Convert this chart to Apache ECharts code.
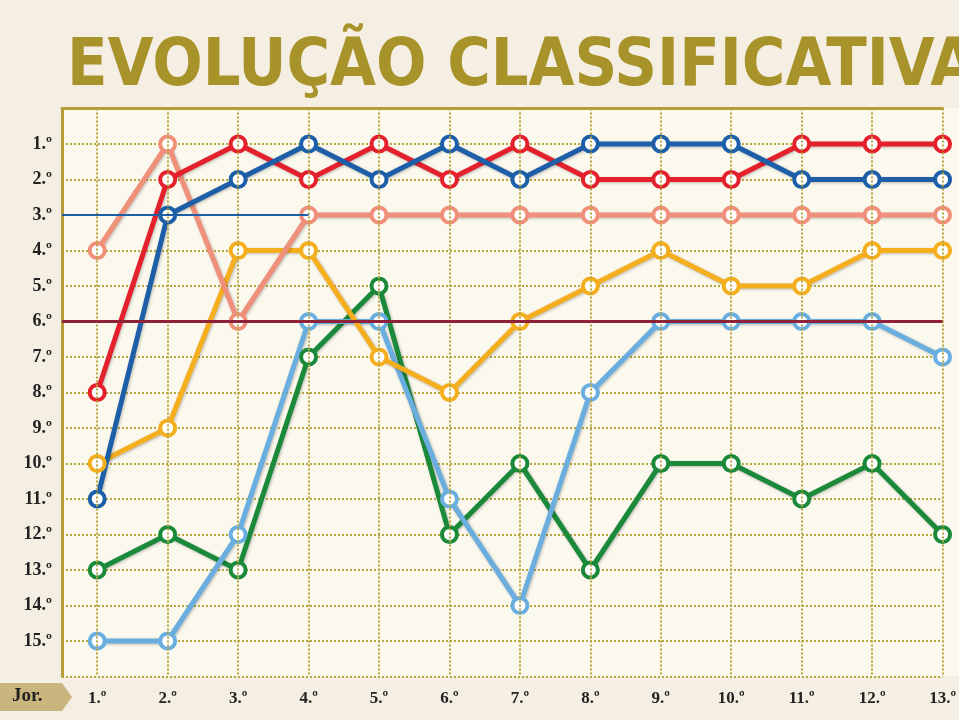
<!DOCTYPE html>
<html><head><meta charset="utf-8">
<script src="https://cdn.jsdelivr.net/npm/echarts@6/dist/echarts.min.js"></script>
<style>html,body{margin:0;padding:0;background:#f4efe2;}#c{width:959px;height:720px;}</style>
</head><body><div id="c"></div>
<script>
const jornadas = ['1.º','2.º','3.º','4.º','5.º','6.º','7.º','8.º','9.º','10.º','11.º','12.º','13.º'];
const vermelho = [8,2,1,2,1,2,1,2,2,2,1,1,1];
const salmao = [4,1,6,3,3,3,3,3,3,3,3,3,3];
const azul = [11,3,2,1,2,1,2,1,1,1,2,2,2];
const laranja = [10,9,4,4,7,8,6,5,4,5,5,4,4];
const verde = [13,12,13,7,5,12,10,13,10,10,11,10,12];
const azulClaro = [15,15,12,6,6,11,14,8,6,6,6,6,7];

const xs = jornadas.map((j, i) => i + 1);
const chart = echarts.init(document.getElementById('c'));
const mk = (data, color) => ({
  type: 'line', data: data.map((v, i) => [i + 1, v]), symbol: 'circle', symbolSize: 15,
  itemStyle: { color: '#fff', borderColor: color, borderWidth: 4 },
  lineStyle: { color, width: 5, shadowColor: 'rgba(0,0,0,0.25)', shadowBlur: 3, shadowOffsetX: 1, shadowOffsetY: 1 },
  z: 3
});
chart.setOption({
  backgroundColor: '#f4efe2',
  title: { text: 'EVOLUÇÃO CLASSIFICATIVA', left: 62, top: 30,
    textStyle: { color: '#a8922a', fontSize: 66, fontWeight: 'bold', fontFamily: 'DejaVu Sans Condensed' } },
  grid: { left: 62, top: 108.5, right: 0, height: 568 },
  xAxis: { type: 'value', min: 0.5, max: 13,
    axisLine: { lineStyle: { color: '#b59e3a', width: 3 } }, axisTick: { show: false },
    splitLine: { show: false },
    axisLabel: { customValues: xs, color: '#222', fontSize: 17, fontWeight: 'bold', margin: 14,
      fontFamily: 'Liberation Sans Narrow', formatter: v => jornadas[v - 1] || '' } },
  yAxis: { type: 'value', inverse: true, min: 0, max: 16, interval: 1,
    axisLine: { show: true, lineStyle: { color: '#b59e3a', width: 3 } }, axisTick: { show: false },
    axisLabel: { color: '#222', fontSize: 18, fontWeight: 'bold', margin: 10, fontFamily: 'Liberation Sans Narrow',
      formatter: v => (v >= 1 && v <= 15) ? v + '.º' : '' },
    splitLine: { lineStyle: { color: '#b8a640', type: 'dotted', width: 2 } } },
  graphic: [
    { type: 'rect', shape: { x: 62, y: 108, width: 897, height: 568 }, style: { fill: '#fbf8ee' }, z: -10 },
    { type: 'polygon', shape: { points: [[0,683],[62,683],[72,697],[62,711],[0,711]] }, style: { fill: '#c9b57d' } },
    { type: 'text', left: 12, top: 687, style: { text: 'Jor.', fontSize: 19, fontWeight: 'bold', fill: '#222', fontFamily: 'Liberation Sans Narrow' } }
  ],
  series: [
    { type: 'line', data: [], silent: true,
      markLine: { symbol: 'none', silent: true, label: { show: false },
        lineStyle: { color: '#b8a640', type: 'dotted', width: 2 },
        data: xs.map(x => ({ xAxis: x })) } },
    { type: 'line', data: [], silent: true,
      markLine: { symbol: 'none', silent: true, label: { show: false },
        data: [
          [{ coord: [0.5, 3], lineStyle: { color: '#1f5fa8', width: 2, type: 'solid' } }, { coord: [4, 3] }],
          [{ coord: [0.5, 6], lineStyle: { color: '#8e2238', width: 3, type: 'solid' } }, { coord: [13, 6] }]
        ] } },
    mk(verde, '#1a8a3a'),
    mk(azulClaro, '#6aaee0'),
    mk(laranja, '#f4ae1e'),
    mk(salmao, '#f0907a'),
    mk(vermelho, '#e4202c'),
    mk(azul, '#1c5ea8')
  ]
});
</script></body></html>
